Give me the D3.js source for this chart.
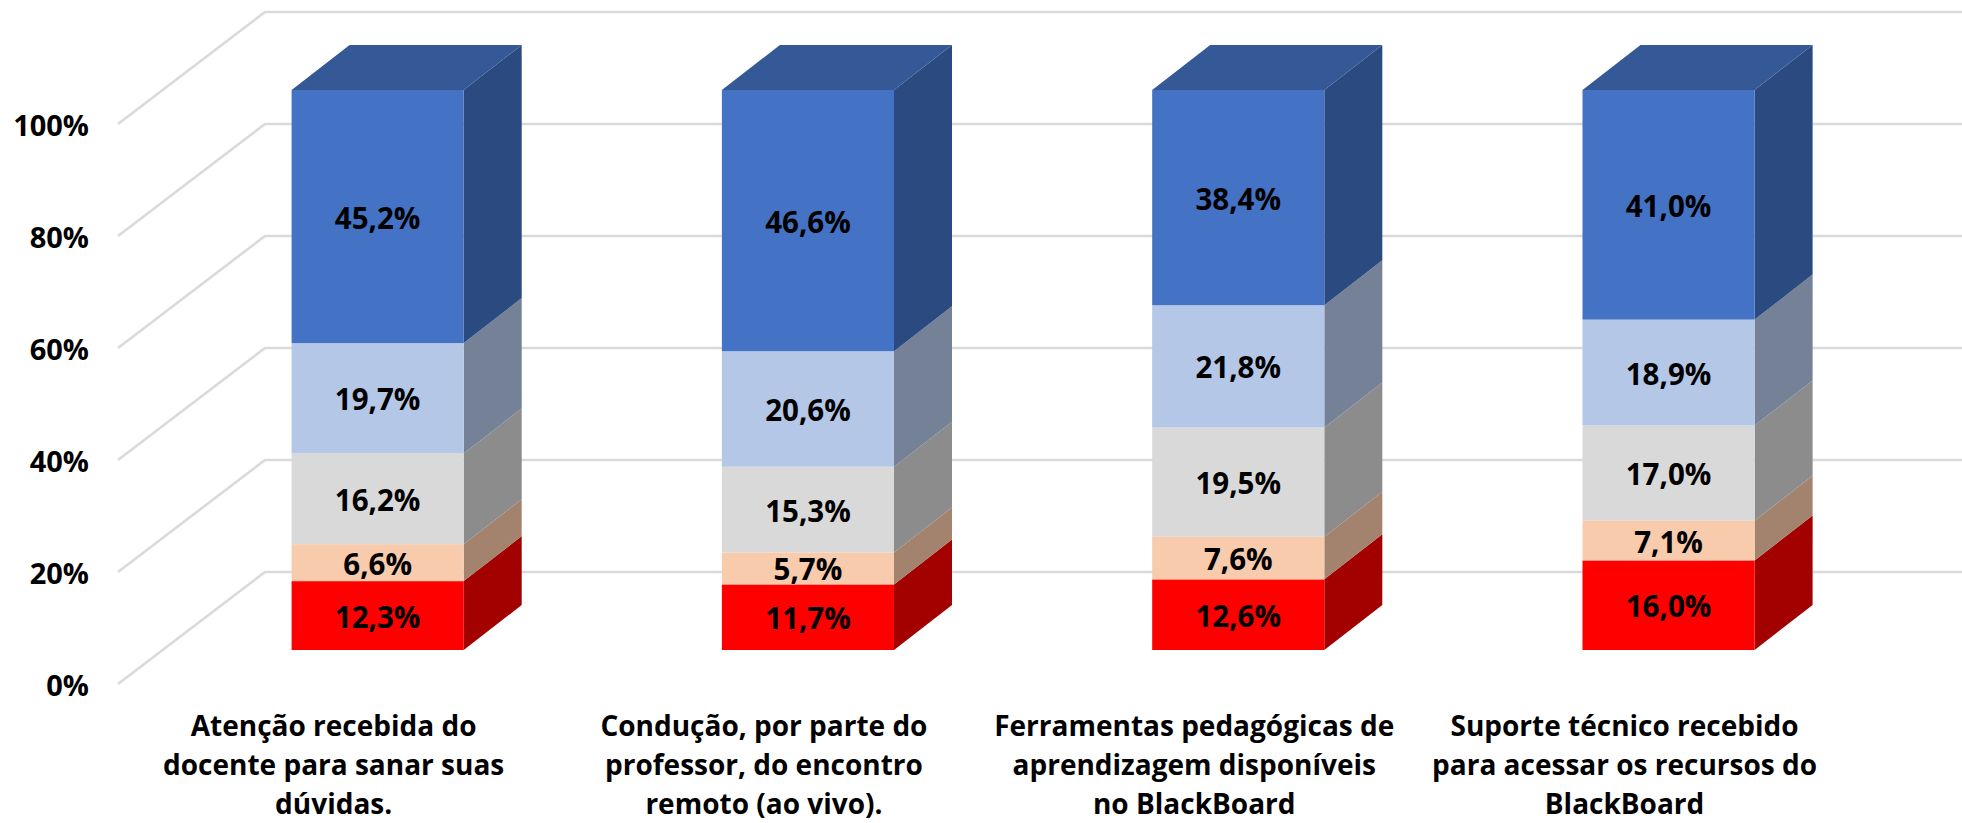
<!DOCTYPE html>
<html lang="en">
<head>
  <meta charset="UTF-8" />
  <title>Stacked 3D columns</title>
  <script src="https://cdn.jsdelivr.net/npm/d3@7"></script>
  <style>
    html, body { margin: 0; padding: 0; background: #fff; overflow: hidden; }
    svg { display: block; }
    text { font-family: "Open Sans", sans-serif; font-weight: 700; fill: #000; font-stretch: 88%; }
  </style>
</head>
<body>
  <script>
    // values
    const categories = [
      ["Atenção recebida do", "docente para sanar suas", "dúvidas."],
      ["Condução, por parte do", "professor, do encontro", "remoto (ao vivo)."],
      ["Ferramentas pedagógicas de", "aprendizagem disponíveis", "no BlackBoard"],
      ["Suporte técnico recebido", "para acessar os recursos do", "BlackBoard"]
    ];
    const serieA = [12.3, 11.7, 12.6, 16.0];
    const serieB = [6.6, 5.7, 7.6, 7.1];
    const serieC = [16.2, 15.3, 19.5, 17.0];
    const serieD = [19.7, 20.6, 21.8, 18.9];
    const serieE = [45.2, 46.6, 38.4, 41.0];
    const yTicks = [0, 20, 40, 60, 80, 100];

    const seriesValues = [serieA, serieB, serieC, serieD, serieE];
    const frontColors = ["#ff0000", "#f8cbad", "#d9d9d9", "#b4c7e7", "#4472c4"];
    const sideColors = ["#a30000", "#a3836d", "#8c8c8c", "#758196", "#2a4a80"];
    const topColor = "#355896";

    const width = 1962, height = 823;
    const barDepth = { x: 58, y: 45 };
    const gridDepth = { x: 147, y: 112 };
    const gridFrontX = 118;

    const svg = d3.select("body").append("svg")
      .attr("width", width)
      .attr("height", height);

    const x = d3.scaleBand()
      .domain(d3.range(categories.length))
      .range([162.5, 1883.7])
      .paddingInner(0.6)
      .paddingOuter(0.3);

    // bars stand in front of the grid, so they get their own vertical scale
    const yBar = d3.scaleLinear().domain([0, 1]).range([650, 90]);
    const yGrid = d3.scaleLinear().domain([0, 100]).range([684, 124]);

    const fmt = d3.formatLocale({ decimal: ",", thousands: ".", grouping: [3], currency: ["", ""] }).format(".1f");

    // grid: diagonal on the floor wall, then flat along the back
    const line = d3.line();
    svg.append("g").selectAll("path")
      .data(yTicks)
      .join("path")
      .attr("d", d => line([
        [gridFrontX, yGrid(d)],
        [gridFrontX + gridDepth.x, yGrid(d) - gridDepth.y],
        [width, yGrid(d) - gridDepth.y]
      ]))
      .attr("fill", "none")
      .attr("stroke", "#dadada")
      .attr("stroke-width", 2.6);

    // y axis labels
    const yAxis = svg.append("g")
      .attr("transform", "translate(89,2)")
      .call(d3.axisLeft(yGrid).tickValues(yTicks).tickFormat(d => d + "%").tickSize(0).tickPadding(0));
    yAxis.select(".domain").remove();
    yAxis.selectAll("text").attr("font-size", 29).style("font-family", null);

    // stacks, normalised because the columns all reach 100%
    const rows = categories.map((c, i) => seriesValues.map(s => s[i]));
    const stacked = d3.stack()
      .keys(d3.range(seriesValues.length))
      .offset(d3.stackOffsetExpand)(rows);

    const poly = pts => line(pts) + "Z";

    stacked.forEach((layer, s) => {
      const g = svg.append("g");
      layer.forEach((d, i) => {
        const x0 = x(i), x1 = x(i) + x.bandwidth();
        const y0 = yBar(d[0]), y1 = yBar(d[1]);

        // side
        g.append("path")
          .attr("d", poly([[x1, y0], [x1 + barDepth.x, y0 - barDepth.y], [x1 + barDepth.x, y1 - barDepth.y], [x1, y1]]))
          .attr("fill", sideColors[s]);
        // front
        g.append("rect")
          .attr("x", x0)
          .attr("y", y1)
          .attr("width", x.bandwidth())
          .attr("height", y0 - y1)
          .attr("fill", frontColors[s]);
        // only the last series shows its top
        if (s === stacked.length - 1) {
          g.append("path")
            .attr("d", poly([[x0, y1], [x0 + barDepth.x, y1 - barDepth.y], [x1 + barDepth.x, y1 - barDepth.y], [x1, y1]]))
            .attr("fill", topColor);
        }
        g.append("text")
          .attr("x", (x0 + x1) / 2)
          .attr("y", (y0 + y1) / 2 + 12)
          .attr("text-anchor", "middle")
          .attr("font-size", 29.5)
          .text(fmt(seriesValues[s][i]) + "%");
      });
    });

    // category labels sit left of their column, under the front of the floor
    const catLabels = svg.append("g").selectAll("text")
      .data(categories)
      .join("text")
      .attr("text-anchor", "middle")
      .attr("font-size", 28);
    catLabels.selectAll("tspan")
      .data((d, i) => d.map(t => ({ t, i })))
      .join("tspan")
      .attr("x", d => x(d.i) + x.bandwidth() / 2 - 44)
      .attr("y", (d, j) => 735.5 + j * 39.2)
      .text(d => d.t);
  </script>
</body>
</html>
